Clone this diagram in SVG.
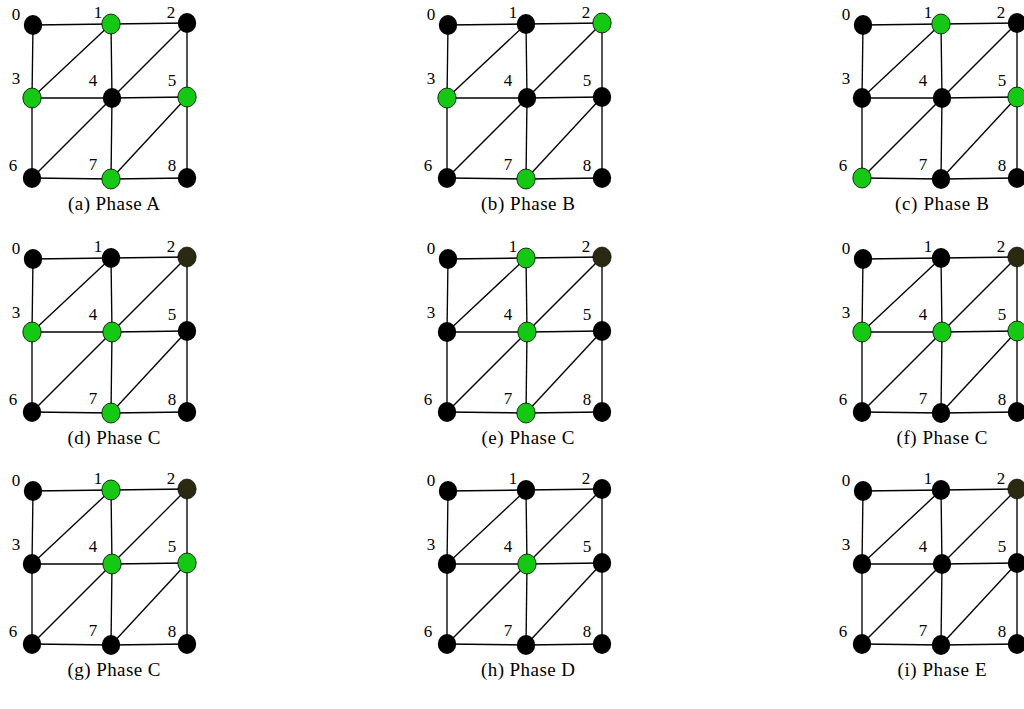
<svg xmlns="http://www.w3.org/2000/svg" xmlns:xlink="http://www.w3.org/1999/xlink" width="1024" height="709" viewBox="0 0 1024 709">
  <style>
    .bg { fill: #ffffff; }
    .edge { stroke: #000000; stroke-width: 1.35; fill: none; }
    ellipse { rx: 9.2px; ry: 10px; }
    .k { fill: #000000; }
    .g { fill: #14c814; stroke: #000000; stroke-width: 0.8; }
    .d { fill: #2a2a12; stroke: #000000; stroke-width: 0.6; }
    .lbl { font-family: "Liberation Serif", "DejaVu Serif", serif; font-size: 17px; fill: #000000; text-anchor: middle; }
    .cap { font-family: "Liberation Serif", "DejaVu Serif", serif; font-size: 19px; fill: #000000; text-anchor: middle; }
  </style>
  <defs>
    <!-- 3x3 triangulated grid, shared by every panel -->
    <g id="grid-edges" class="edge">
      <line x1="33" y1="25" x2="111" y2="24"/>
      <line x1="111" y1="24" x2="187" y2="23"/>
      <line x1="32" y1="98" x2="112" y2="98"/>
      <line x1="112" y1="98" x2="187" y2="97"/>
      <line x1="32" y1="178" x2="111" y2="179"/>
      <line x1="111" y1="179" x2="187" y2="178"/>
      <line x1="33" y1="25" x2="32" y2="98"/>
      <line x1="32" y1="98" x2="32" y2="178"/>
      <line x1="111" y1="24" x2="112" y2="98"/>
      <line x1="112" y1="98" x2="111" y2="179"/>
      <line x1="187" y1="23" x2="187" y2="97"/>
      <line x1="187" y1="97" x2="187" y2="178"/>
      <line x1="32" y1="98" x2="111" y2="24"/>
      <line x1="112" y1="98" x2="187" y2="23"/>
      <line x1="32" y1="178" x2="112" y2="98"/>
      <line x1="111" y1="179" x2="187" y2="97"/>
    </g>
  </defs>

  <rect class="bg" x="0" y="0" width="1024" height="709"/>

  <!-- (a) -->
  <g id="panel-a" transform="translate(0,0)">
    <g id="a-edges"><use xlink:href="#grid-edges" href="#grid-edges"/></g>
    <g id="a-n0"><ellipse class="k" cx="33" cy="25"/><text class="lbl" x="16" y="20">0</text></g>
    <g id="a-n1"><ellipse class="g" cx="111" cy="24"/><text class="lbl" x="98" y="18">1</text></g>
    <g id="a-n2"><ellipse class="k" cx="187" cy="23"/><text class="lbl" x="171" y="18">2</text></g>
    <g id="a-n3"><ellipse class="g" cx="32" cy="98"/><text class="lbl" x="16" y="84">3</text></g>
    <g id="a-n4"><ellipse class="k" cx="112" cy="98"/><text class="lbl" x="93" y="86">4</text></g>
    <g id="a-n5"><ellipse class="g" cx="187" cy="97"/><text class="lbl" x="172" y="86">5</text></g>
    <g id="a-n6"><ellipse class="k" cx="32" cy="178"/><text class="lbl" x="13" y="171">6</text></g>
    <g id="a-n7"><ellipse class="g" cx="111" cy="179"/><text class="lbl" x="93" y="170">7</text></g>
    <g id="a-n8"><ellipse class="k" cx="187" cy="178"/><text class="lbl" x="172" y="171">8</text></g>
    <text class="cap" x="114" y="210" textLength="92">(a) Phase A</text>
  </g>

  <!-- (b) -->
  <g id="panel-b" transform="translate(415,0)">
    <g id="b-edges"><use xlink:href="#grid-edges" href="#grid-edges"/></g>
    <g id="b-n0"><ellipse class="k" cx="33" cy="25"/><text class="lbl" x="16" y="20">0</text></g>
    <g id="b-n1"><ellipse class="k" cx="111" cy="24"/><text class="lbl" x="98" y="18">1</text></g>
    <g id="b-n2"><ellipse class="g" cx="187" cy="23"/><text class="lbl" x="171" y="18">2</text></g>
    <g id="b-n3"><ellipse class="g" cx="32" cy="98"/><text class="lbl" x="16" y="84">3</text></g>
    <g id="b-n4"><ellipse class="k" cx="112" cy="98"/><text class="lbl" x="93" y="86">4</text></g>
    <g id="b-n5"><ellipse class="k" cx="187" cy="97"/><text class="lbl" x="172" y="86">5</text></g>
    <g id="b-n6"><ellipse class="k" cx="32" cy="178"/><text class="lbl" x="13" y="171">6</text></g>
    <g id="b-n7"><ellipse class="g" cx="111" cy="179"/><text class="lbl" x="93" y="170">7</text></g>
    <g id="b-n8"><ellipse class="k" cx="187" cy="178"/><text class="lbl" x="172" y="171">8</text></g>
    <text class="cap" x="113" y="210" textLength="94">(b) Phase B</text>
  </g>

  <!-- (c) -->
  <g id="panel-c" transform="translate(830,0)">
    <g id="c-edges"><use xlink:href="#grid-edges" href="#grid-edges"/></g>
    <g id="c-n0"><ellipse class="k" cx="33" cy="25"/><text class="lbl" x="16" y="20">0</text></g>
    <g id="c-n1"><ellipse class="g" cx="111" cy="24"/><text class="lbl" x="98" y="18">1</text></g>
    <g id="c-n2"><ellipse class="k" cx="187" cy="23"/><text class="lbl" x="171" y="18">2</text></g>
    <g id="c-n3"><ellipse class="k" cx="32" cy="98"/><text class="lbl" x="16" y="84">3</text></g>
    <g id="c-n4"><ellipse class="k" cx="112" cy="98"/><text class="lbl" x="93" y="86">4</text></g>
    <g id="c-n5"><ellipse class="g" cx="187" cy="97"/><text class="lbl" x="172" y="86">5</text></g>
    <g id="c-n6"><ellipse class="g" cx="32" cy="178"/><text class="lbl" x="13" y="171">6</text></g>
    <g id="c-n7"><ellipse class="k" cx="111" cy="179"/><text class="lbl" x="93" y="170">7</text></g>
    <g id="c-n8"><ellipse class="k" cx="187" cy="178"/><text class="lbl" x="172" y="171">8</text></g>
    <text class="cap" x="112" y="210" textLength="94">(c) Phase B</text>
  </g>

  <!-- (d) -->
  <g id="panel-d" transform="translate(0,234)">
    <g id="d-edges"><use xlink:href="#grid-edges" href="#grid-edges"/></g>
    <g id="d-n0"><ellipse class="k" cx="33" cy="25"/><text class="lbl" x="16" y="20">0</text></g>
    <g id="d-n1"><ellipse class="k" cx="111" cy="24"/><text class="lbl" x="98" y="18">1</text></g>
    <g id="d-n2"><ellipse class="d" cx="187" cy="23"/><text class="lbl" x="171" y="18">2</text></g>
    <g id="d-n3"><ellipse class="g" cx="32" cy="98"/><text class="lbl" x="16" y="84">3</text></g>
    <g id="d-n4"><ellipse class="g" cx="112" cy="98"/><text class="lbl" x="93" y="86">4</text></g>
    <g id="d-n5"><ellipse class="k" cx="187" cy="97"/><text class="lbl" x="172" y="86">5</text></g>
    <g id="d-n6"><ellipse class="k" cx="32" cy="178"/><text class="lbl" x="13" y="171">6</text></g>
    <g id="d-n7"><ellipse class="g" cx="111" cy="179"/><text class="lbl" x="93" y="170">7</text></g>
    <g id="d-n8"><ellipse class="k" cx="187" cy="178"/><text class="lbl" x="172" y="171">8</text></g>
    <text class="cap" x="114" y="210" textLength="93">(d) Phase C</text>
  </g>

  <!-- (e) -->
  <g id="panel-e" transform="translate(415,234)">
    <g id="e-edges"><use xlink:href="#grid-edges" href="#grid-edges"/></g>
    <g id="e-n0"><ellipse class="k" cx="33" cy="25"/><text class="lbl" x="16" y="20">0</text></g>
    <g id="e-n1"><ellipse class="g" cx="111" cy="24"/><text class="lbl" x="98" y="18">1</text></g>
    <g id="e-n2"><ellipse class="d" cx="187" cy="23"/><text class="lbl" x="171" y="18">2</text></g>
    <g id="e-n3"><ellipse class="k" cx="32" cy="98"/><text class="lbl" x="16" y="84">3</text></g>
    <g id="e-n4"><ellipse class="g" cx="112" cy="98"/><text class="lbl" x="93" y="86">4</text></g>
    <g id="e-n5"><ellipse class="k" cx="187" cy="97"/><text class="lbl" x="172" y="86">5</text></g>
    <g id="e-n6"><ellipse class="k" cx="32" cy="178"/><text class="lbl" x="13" y="171">6</text></g>
    <g id="e-n7"><ellipse class="g" cx="111" cy="179"/><text class="lbl" x="93" y="170">7</text></g>
    <g id="e-n8"><ellipse class="k" cx="187" cy="178"/><text class="lbl" x="172" y="171">8</text></g>
    <text class="cap" x="113" y="210" textLength="93">(e) Phase C</text>
  </g>

  <!-- (f) -->
  <g id="panel-f" transform="translate(830,234)">
    <g id="f-edges"><use xlink:href="#grid-edges" href="#grid-edges"/></g>
    <g id="f-n0"><ellipse class="k" cx="33" cy="25"/><text class="lbl" x="16" y="20">0</text></g>
    <g id="f-n1"><ellipse class="k" cx="111" cy="24"/><text class="lbl" x="98" y="18">1</text></g>
    <g id="f-n2"><ellipse class="d" cx="187" cy="23"/><text class="lbl" x="171" y="18">2</text></g>
    <g id="f-n3"><ellipse class="g" cx="32" cy="98"/><text class="lbl" x="16" y="84">3</text></g>
    <g id="f-n4"><ellipse class="g" cx="112" cy="98"/><text class="lbl" x="93" y="86">4</text></g>
    <g id="f-n5"><ellipse class="g" cx="187" cy="97"/><text class="lbl" x="172" y="86">5</text></g>
    <g id="f-n6"><ellipse class="k" cx="32" cy="178"/><text class="lbl" x="13" y="171">6</text></g>
    <g id="f-n7"><ellipse class="k" cx="111" cy="179"/><text class="lbl" x="93" y="170">7</text></g>
    <g id="f-n8"><ellipse class="k" cx="187" cy="178"/><text class="lbl" x="172" y="171">8</text></g>
    <text class="cap" x="112" y="210" textLength="91">(f) Phase C</text>
  </g>

  <!-- (g) -->
  <g id="panel-g" transform="translate(0,466)">
    <g id="g-edges"><use xlink:href="#grid-edges" href="#grid-edges"/></g>
    <g id="g-n0"><ellipse class="k" cx="33" cy="25"/><text class="lbl" x="16" y="20">0</text></g>
    <g id="g-n1"><ellipse class="g" cx="111" cy="24"/><text class="lbl" x="98" y="18">1</text></g>
    <g id="g-n2"><ellipse class="d" cx="187" cy="23"/><text class="lbl" x="171" y="18">2</text></g>
    <g id="g-n3"><ellipse class="k" cx="32" cy="98"/><text class="lbl" x="16" y="84">3</text></g>
    <g id="g-n4"><ellipse class="g" cx="112" cy="98"/><text class="lbl" x="93" y="86">4</text></g>
    <g id="g-n5"><ellipse class="g" cx="187" cy="97"/><text class="lbl" x="172" y="86">5</text></g>
    <g id="g-n6"><ellipse class="k" cx="32" cy="178"/><text class="lbl" x="13" y="171">6</text></g>
    <g id="g-n7"><ellipse class="k" cx="111" cy="179"/><text class="lbl" x="93" y="170">7</text></g>
    <g id="g-n8"><ellipse class="k" cx="187" cy="178"/><text class="lbl" x="172" y="171">8</text></g>
    <text class="cap" x="114" y="210" textLength="93">(g) Phase C</text>
  </g>

  <!-- (h) -->
  <g id="panel-h" transform="translate(415,466)">
    <g id="h-edges"><use xlink:href="#grid-edges" href="#grid-edges"/></g>
    <g id="h-n0"><ellipse class="k" cx="33" cy="25"/><text class="lbl" x="16" y="20">0</text></g>
    <g id="h-n1"><ellipse class="k" cx="111" cy="24"/><text class="lbl" x="98" y="18">1</text></g>
    <g id="h-n2"><ellipse class="k" cx="187" cy="23"/><text class="lbl" x="171" y="18">2</text></g>
    <g id="h-n3"><ellipse class="k" cx="32" cy="98"/><text class="lbl" x="16" y="84">3</text></g>
    <g id="h-n4"><ellipse class="g" cx="112" cy="98"/><text class="lbl" x="93" y="86">4</text></g>
    <g id="h-n5"><ellipse class="k" cx="187" cy="97"/><text class="lbl" x="172" y="86">5</text></g>
    <g id="h-n6"><ellipse class="k" cx="32" cy="178"/><text class="lbl" x="13" y="171">6</text></g>
    <g id="h-n7"><ellipse class="k" cx="111" cy="179"/><text class="lbl" x="93" y="170">7</text></g>
    <g id="h-n8"><ellipse class="k" cx="187" cy="178"/><text class="lbl" x="172" y="171">8</text></g>
    <text class="cap" x="113" y="210" textLength="94">(h) Phase D</text>
  </g>

  <!-- (i) -->
  <g id="panel-i" transform="translate(830,466)">
    <g id="i-edges"><use xlink:href="#grid-edges" href="#grid-edges"/></g>
    <g id="i-n0"><ellipse class="k" cx="33" cy="25"/><text class="lbl" x="16" y="20">0</text></g>
    <g id="i-n1"><ellipse class="k" cx="111" cy="24"/><text class="lbl" x="98" y="18">1</text></g>
    <g id="i-n2"><ellipse class="d" cx="187" cy="23"/><text class="lbl" x="171" y="18">2</text></g>
    <g id="i-n3"><ellipse class="k" cx="32" cy="98"/><text class="lbl" x="16" y="84">3</text></g>
    <g id="i-n4"><ellipse class="k" cx="112" cy="98"/><text class="lbl" x="93" y="86">4</text></g>
    <g id="i-n5"><ellipse class="k" cx="187" cy="97"/><text class="lbl" x="172" y="86">5</text></g>
    <g id="i-n6"><ellipse class="k" cx="32" cy="178"/><text class="lbl" x="13" y="171">6</text></g>
    <g id="i-n7"><ellipse class="k" cx="111" cy="179"/><text class="lbl" x="93" y="170">7</text></g>
    <g id="i-n8"><ellipse class="k" cx="187" cy="178"/><text class="lbl" x="172" y="171">8</text></g>
    <text class="cap" x="112" y="210" textLength="89">(i) Phase E</text>
  </g>
</svg>
